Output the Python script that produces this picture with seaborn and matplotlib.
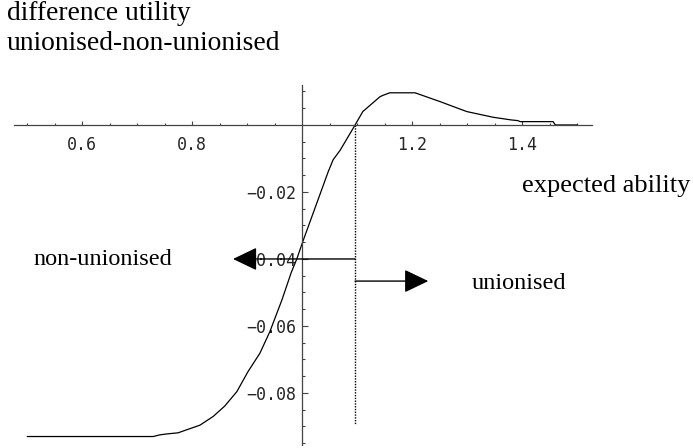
import matplotlib
matplotlib.use('Agg')
import matplotlib.pyplot as plt
import seaborn as sns
import numpy as np

# curve: difference in utility vs expected ability
ability = [0.50, 0.60, 0.70, 0.729, 0.741, 0.755, 0.774, 0.814, 0.838, 0.859,
           0.881, 0.901, 0.923, 0.941, 0.963, 0.980, 0.990, 1.002, 1.020, 1.047,
           1.056, 1.069, 1.096, 1.110, 1.141, 1.146, 1.159, 1.180, 1.205, 1.250,
           1.299, 1.347, 1.380, 1.392, 1.396, 1.456, 1.460, 1.500]
diff_utility = [-0.0930, -0.0930, -0.0930, -0.0930, -0.0925, -0.0922, -0.0919, -0.0896, -0.0870, -0.0839,
                -0.0796, -0.0737, -0.0681, -0.0617, -0.0522, -0.0440, -0.0400, -0.0343, -0.0262, -0.0140,
                -0.0104, -0.0075, 0.0000, 0.0040, 0.0084, 0.0088, 0.0096, 0.0096, 0.0096, 0.0070,
                0.0040, 0.0023, 0.0015, 0.0013, 0.0010, 0.0010, 0.0000, 0.0000]

threshold = 1.096
threshold_bottom = -0.0896
arrow_left = (0.874, -0.040)
arrow_right = (1.229, -0.0466)

xticks_major = [0.6, 0.8, 1.2, 1.4]
xticks_minor = [0.5, 0.55, 0.65, 0.7, 0.75, 0.85, 0.9, 0.95, 1.05, 1.1, 1.15,
                1.25, 1.3, 1.35, 1.45, 1.5]
yticks_major = [-0.02, -0.04, -0.06, -0.08]
yticks_minor = [0.01, 0.005, -0.005, -0.01, -0.015, -0.025, -0.03, -0.035, -0.045,
                -0.05, -0.055, -0.065, -0.07, -0.075, -0.085, -0.09, -0.095]

sns.set_style('white')
plt.rcParams['font.family'] = ['DejaVu Sans Mono']

W, H = 693, 448
fig = plt.figure(figsize=(W / 100, H / 100), dpi=100)
ax = fig.add_axes([13.55 / W, (H - 444.9) / H, 578.6 / W, 359.8 / H])
ax.set_facecolor('none')

sns.lineplot(x=ability, y=diff_utility, color='black', linewidth=0.9, ax=ax,
             estimator=None, sort=False)

# dotted threshold line
ax.plot([threshold, threshold], [0, threshold_bottom], color='black',
        linewidth=1.0, dashes=(1, 1))

# arrows
arrow_kw = dict(arrowstyle='-|>,head_length=1.5,head_width=0.72', color='black',
                linewidth=1.0, shrinkA=0, shrinkB=0, mutation_scale=10)
ax.annotate('', xy=arrow_left, xytext=(threshold, arrow_left[1]), arrowprops=arrow_kw)
ax.annotate('', xy=arrow_right, xytext=(threshold, arrow_right[1]), arrowprops=arrow_kw)

ax.set_xlim(0.475, 1.527)
ax.set_ylim(-0.0955, 0.0119)

for s in ['top', 'right']:
    ax.spines[s].set_visible(False)
ax.spines['left'].set_position(('data', 1.0))
ax.spines['bottom'].set_position(('data', 0.0))
for s in ['left', 'bottom']:
    ax.spines[s].set_color('#444444')
    ax.spines[s].set_linewidth(0.9)

ax.set_xticks(xticks_major)
ax.set_xticklabels([f'{v:.1f}' for v in xticks_major])
ax.set_xticks(xticks_minor, minor=True)
ax.set_yticks(yticks_major)
ax.set_yticklabels([f'\u2212{abs(v):.2f}' for v in yticks_major])
ax.set_yticks(yticks_minor, minor=True)

ax.tick_params(axis='x', which='major', direction='in', length=3.0, width=0.8,
               color='#444444', labelsize=12, pad=8, bottom=True)
ax.tick_params(axis='x', which='minor', direction='in', length=1.7, width=0.8,
               color='#444444', bottom=True)
ax.tick_params(axis='y', which='major', direction='in', length=4.0, width=0.8,
               color='#444444', labelsize=12, pad=4.5, left=True)
ax.tick_params(axis='y', which='minor', direction='in', length=2.2, width=0.8,
               color='#444444', left=True)

serif = dict(family=['Liberation Serif', 'DejaVu Serif'], color='black',
             va='baseline', ha='left')
fig.text(7 / W, 1 - 20 / H, 'difference utility', fontsize=19.8, **serif)
fig.text(7 / W, 1 - 50 / H, 'unionised-non-unionised', fontsize=19.8, **serif)
fig.text(522 / W, 1 - 192 / H, 'expected ability', fontsize=19, **serif)
fig.text(33 / W, 1 - 265 / H, 'non-unionised', fontsize=17.5, **serif)
fig.text(472 / W, 1 - 289 / H, 'unionised', fontsize=17.5, **serif)

fig.savefig('out.png', dpi=100)
